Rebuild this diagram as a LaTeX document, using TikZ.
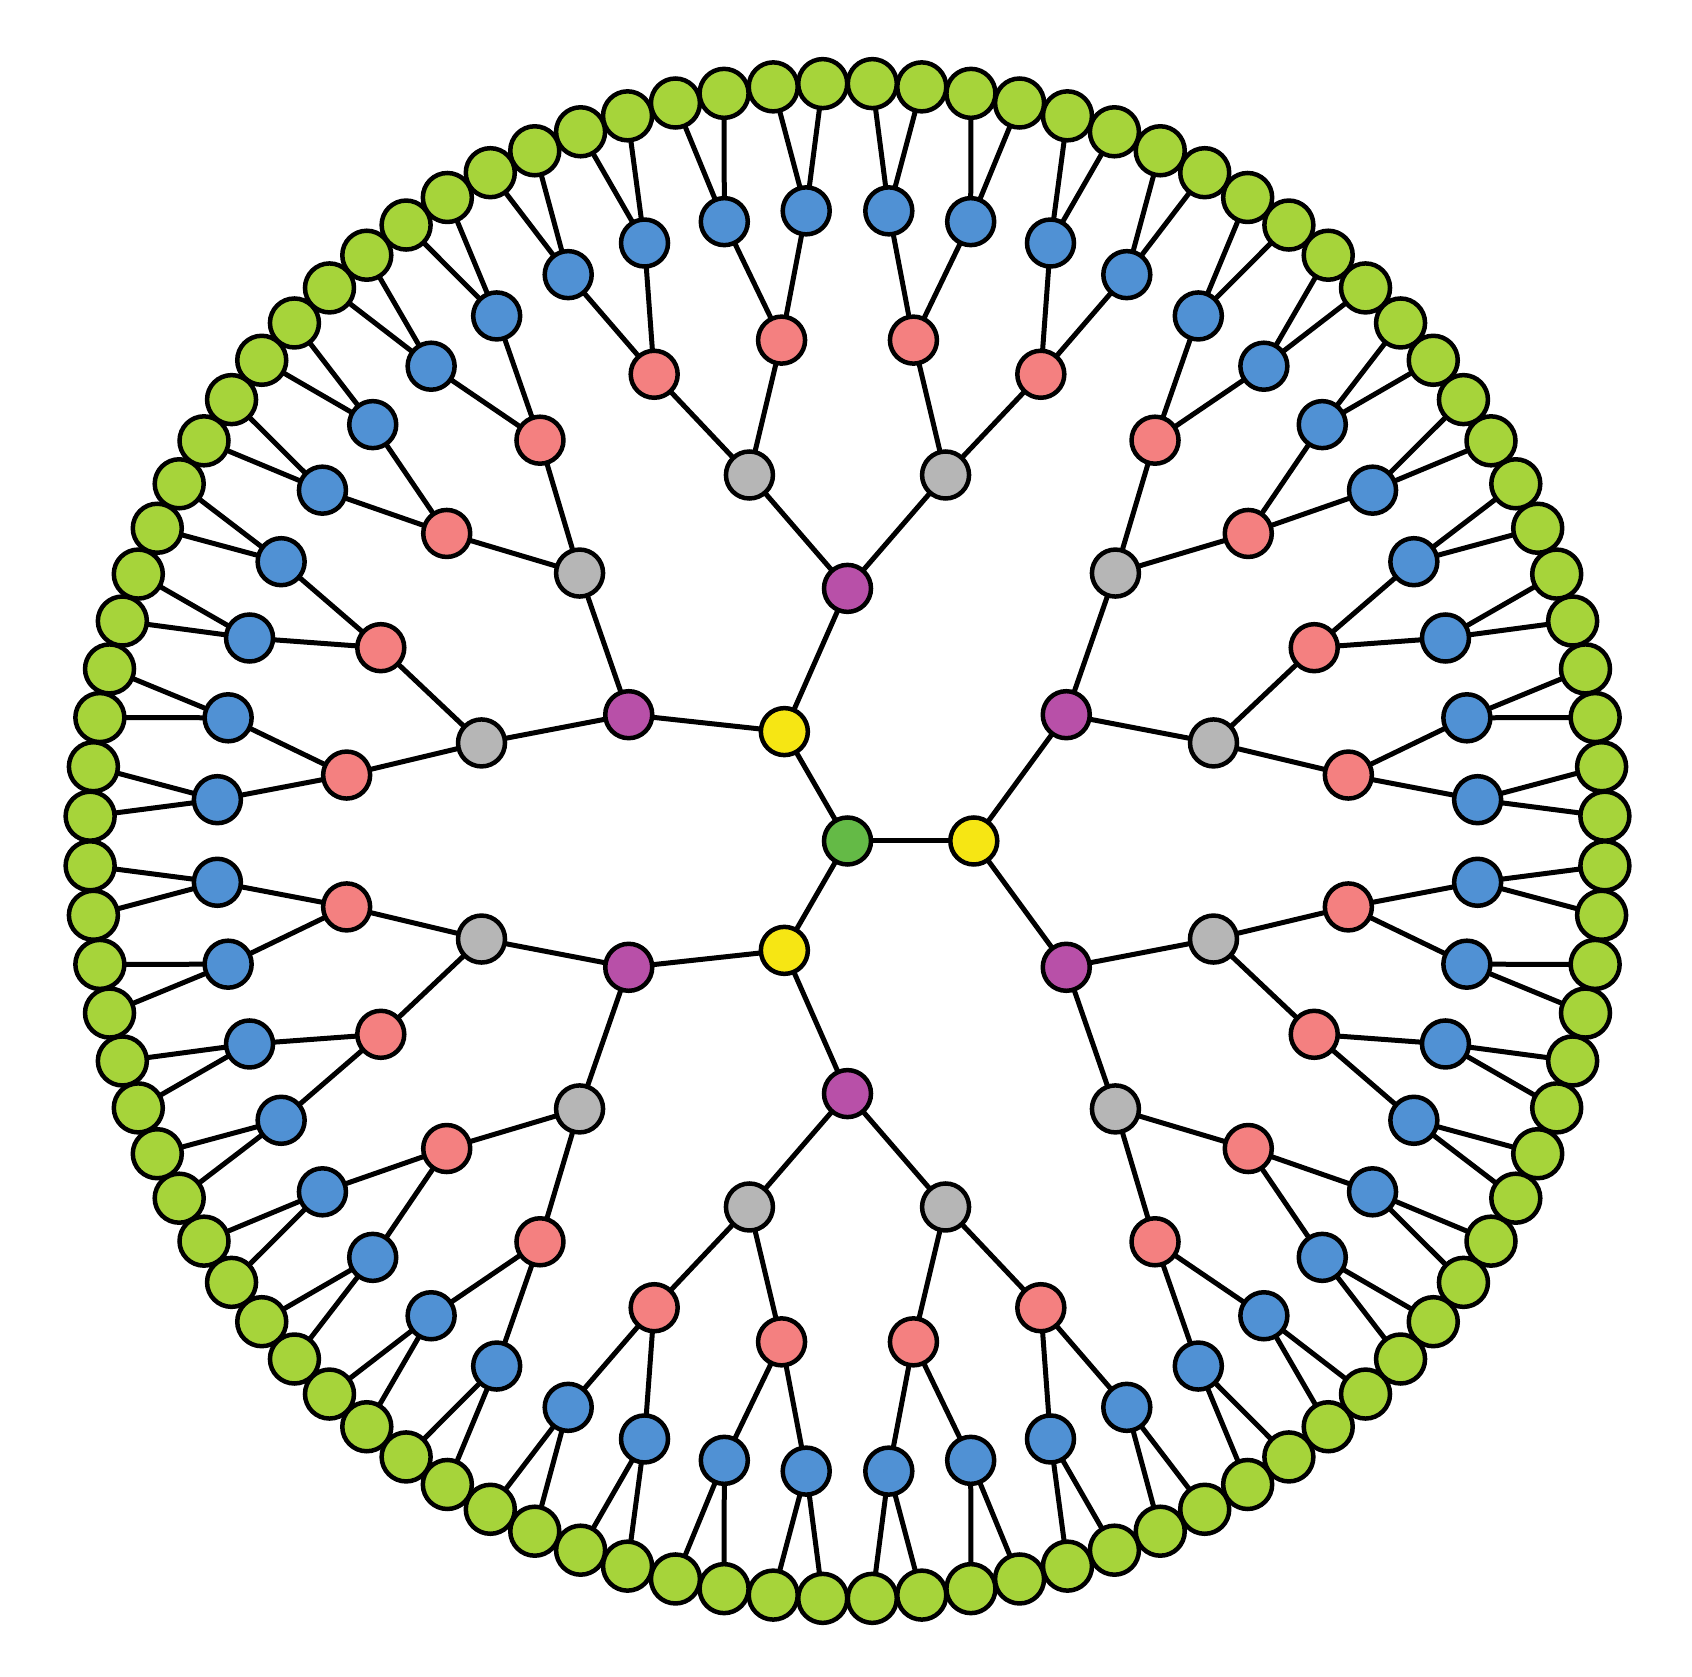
\documentclass[tikz,border=0pt]{standalone}
\pgfdeclarelayer{bg}
\pgfsetlayers{bg,main}
\definecolor{leafc}{RGB}{166,212,58}
\definecolor{rootc}{RGB}{100,186,70}
\definecolor{yelc}{RGB}{246,230,20}
\definecolor{purc}{RGB}{184,80,168}
\definecolor{grayc}{RGB}{182,182,182}
\definecolor{pinkc}{RGB}{244,128,128}
\definecolor{bluec}{RGB}{80,145,212}
\begin{document}
\begin{tikzpicture}[x=1pt,y=1pt,
  nd/.style={circle,draw=black,line width=4.5pt,minimum size=47pt,inner sep=0pt},
  lf/.style={nd,minimum size=49pt},
  ed/.style={line width=5pt,draw=black}]
\useasboundingbox (0,0) rectangle (1692,1676);
\begin{scope}[shift={(847.5,835)}]
\def\R{126.3}
\node[nd,fill=rootc] (r) at (0,0) {};
\foreach \i in {0,1,2} {
  \pgfmathsetmacro\a{120*\i}
  \node[nd,fill=yelc] (y\i) at (\a:\R) {};
}
\foreach \i in {0,...,5} {
  \pgfmathsetmacro\a{30+60*\i}
  \node[nd,fill=purc] (p\i) at (\a:2*\R) {};
}
\foreach \i in {0,...,11} {
  \pgfmathsetmacro\a{15+30*\i}
  \node[nd,fill=grayc] (g\i) at (\a:3*\R) {};
}
\foreach \i in {0,...,23} {
  \pgfmathsetmacro\a{7.5+15*\i}
  \node[nd,fill=pinkc] (k\i) at (\a:4*\R) {};
}
\foreach \i in {0,...,47} {
  \pgfmathsetmacro\a{3.75+7.5*\i}
  \node[nd,fill=bluec] (b\i) at (\a:5*\R) {};
}
\foreach \i in {0,...,95} {
  \pgfmathsetmacro\a{1.875+3.75*\i}
  \node[lf,fill=leafc] (l\i) at (\a:6*\R) {};
}
\begin{pgfonlayer}{bg}
\foreach \i in {0,1,2} { \draw[ed] (r.center) -- (y\i.center); }
\foreach \i in {0,...,5} {
  \pgfmathtruncatemacro\pp{floor(mod(\i+1,6)/2)}
  \draw[ed] (y\pp.center) -- (p\i.center);
}
\foreach \i in {0,...,11} {
  \pgfmathtruncatemacro\pp{floor(\i/2)}
  \draw[ed] (p\pp.center) -- (g\i.center);
}
\foreach \i in {0,...,23} {
  \pgfmathtruncatemacro\pp{floor(\i/2)}
  \draw[ed] (g\pp.center) -- (k\i.center);
}
\foreach \i in {0,...,47} {
  \pgfmathtruncatemacro\pp{floor(\i/2)}
  \draw[ed] (k\pp.center) -- (b\i.center);
}
\foreach \i in {0,...,95} {
  \pgfmathtruncatemacro\pp{floor(\i/2)}
  \draw[ed] (b\pp.center) -- (l\i.center);
}
\end{pgfonlayer}
\end{scope}
\end{tikzpicture}
\end{document}
